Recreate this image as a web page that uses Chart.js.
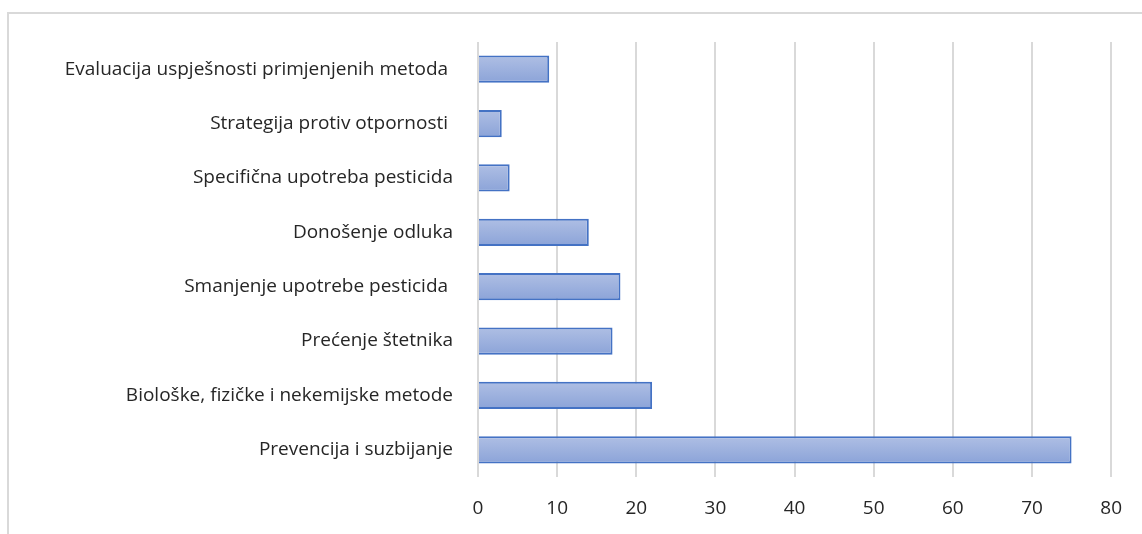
<!DOCTYPE html>
<html>
<head>
<meta charset="utf-8">
<script src="https://cdn.jsdelivr.net/npm/chart.js@4/dist/chart.umd.min.js"></script>
<style>
  html, body { margin: 0; padding: 0; background: #fff; }
  #wrap { width: 1142px; height: 534px; position: relative; }
</style>
</head>
<body>
<div id="wrap"><canvas id="myChart" width="1142" height="534"></canvas></div>
<script>
// categories top to bottom, as in the picture
let categories = [
  'Evaluacija uspješnosti primjenjenih metoda ',
  'Strategija protiv otpornosti ',
  'Specifična upotreba pesticida',
  'Donošenje odluka',
  'Smanjenje upotrebe pesticida ',
  'Prećenje štetnika',
  'Biološke, fizičke i nekemijske metode',
  'Prevencija i suzbijanje'
]
let values = [9, 3, 4, 14, 18, 17, 22, 75]
let xTicks = [0, 10, 20, 30, 40, 50, 60, 70, 80]

// grey frame round the chart (top and left edges are visible)
const framePlugin = {
  id: 'frame',
  beforeDraw(chart) {
    const c = chart.ctx
    c.save()
    c.strokeStyle = '#d9d9d9'
    c.lineWidth = 2
    c.beginPath()
    c.moveTo(8, 534)
    c.lineTo(8, 13)
    c.lineTo(1142, 13)
    c.stroke()
    c.restore()
  }
}

function barFill(context) {
  const chart = context.chart
  if (!chart.chartArea || !chart.scales.y) return '#9db0dd'
  const yc = chart.scales.y.getPixelForValue(context.dataIndex)
  const g = chart.ctx.createLinearGradient(0, yc - 14, 0, yc + 14)
  g.addColorStop(0, '#afbfe4')
  g.addColorStop(1, '#8ba3d8')
  return g
}

var ctx = document.getElementById('myChart').getContext('2d')
var chart = new Chart(ctx, {
  type: 'bar',
  data: {
    labels: categories,
    datasets: [{
      label: 'Series 1',
      data: values,
      backgroundColor: barFill,
      borderColor: '#4472c4',
      borderWidth: 2,
      borderSkipped: 'start',
      categoryPercentage: 1,
      barPercentage: 0.5
    }]
  },
  options: {
    indexAxis: 'y',
    responsive: false,
    animation: false,
    layout: { padding: { top: 42, right: 29, left: 0, bottom: 0 } },
    plugins: {
      legend: { display: false },
      tooltip: { enabled: false }
    },
    scales: {
      x: {
        min: 0,
        max: 80,
        afterBuildTicks: (scale) => { scale.ticks = xTicks.map(v => ({ value: v })) },
        afterFit: (scale) => { scale.height = 57 },
        grid: { color: '#d9d9d9', lineWidth: 2, drawTicks: false },
        border: { display: false },
        ticks: {
          padding: 20,
          color: '#262626',
          font: { family: 'Open Sans', size: 19 }
        }
      },
      y: {
        afterFit: (scale) => { scale.width = 478 },
        grid: { display: false },
        border: { display: false },
        ticks: {
          padding: 17,
          color: '#262626',
          font: { family: 'Open Sans', size: 19 }
        }
      }
    }
  },
  plugins: [framePlugin]
})
</script>
</body>
</html>
